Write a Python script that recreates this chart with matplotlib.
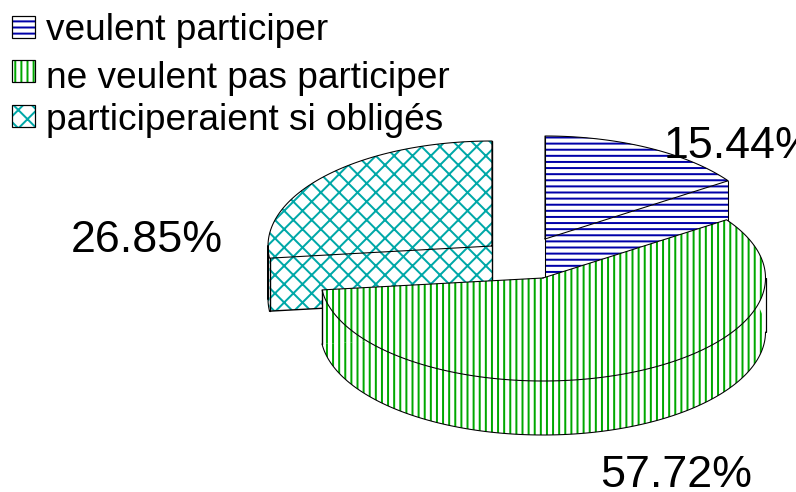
import numpy as np
import matplotlib
matplotlib.use("Agg")
import matplotlib.pyplot as plt
from matplotlib.patches import Polygon, Rectangle

categories = ["veulent participer", "ne veulent pas participer", "participeraient si obligés"]
values = [15.44, 57.72, 26.85]
value_labels = ["15.44%", "57.72%", "26.85%"]
colors = ["#0000A8", "#00A800", "#00A8A8"]
hatches = ["---", "|||", "xx"]

W, H, DPI = 796, 492, 110
plt.rcParams["font.family"] = ["Liberation Sans", "DejaVu Sans"]
plt.rcParams["hatch.linewidth"] = 1.3
plt.rcParams["path.simplify"] = False

fig = plt.figure(figsize=(W / DPI, H / DPI), dpi=DPI)
ax = fig.add_axes([0, 0, 1, 1])
ax.set_xlim(0, W)
ax.set_ylim(H, 0)
ax.axis("off")

# layout of each exploded slice: centre x, centre y, semi axes, thickness
layout = [(545, 239, 222, 103, 55), (543, 278, 222.5, 103, 54), (492, 246, 224, 105, 53)]
label_pos = [(664, 158), (600, 487), (71, 252)]
draw_order = [2, 0, 1]

fractions = np.array(values) / sum(values)
edges = np.concatenate([[0], np.cumsum(fractions)]) * 2 * np.pi
z = [10]


def next_z():
    z[0] += 1
    return z[0]


def arc(cx, cy, a, b, t0, t1, n=160):
    t = np.linspace(t0, t1, n)
    return np.column_stack([cx + a * np.sin(t), cy - b * np.cos(t)])


def fill(pts, i):
    ax.add_patch(Polygon(pts, closed=True, facecolor="white", edgecolor=colors[i],
                         hatch=hatches[i], linewidth=0, zorder=next_z()))


def outline(pts, lw=0.7):
    pts = np.asarray(pts)
    ax.plot(pts[:, 0], pts[:, 1], color="black", lw=lw, solid_capstyle="round", zorder=next_z())


for i in draw_order:
    cx, cy, a, b, d = layout[i]
    t0, t1 = edges[i], edges[i + 1]
    top = arc(cx, cy, a, b, t0, t1)
    apex = np.array([[cx, cy]])
    drop = np.array([[0, d]])
    low = top + drop
    # extruded outer wall and cut faces
    fill(np.vstack([top, low[::-1]]), i)
    fill(np.vstack([apex, top[:1], low[:1], apex + drop]), i)
    fill(np.vstack([apex, top[-1:], low[-1:], apex + drop]), i)
    # top face
    surface = np.vstack([apex, top])
    fill(surface, i)
    # visible silhouette lines
    if i == 0:
        outline([top[-1], low[-1]])
        outline([top[0], apex[0] + drop[0]])
    elif i == 1:
        outline(arc(cx, cy + d, a, b, np.pi / 2, t1))
        outline([[cx + a, cy], [cx + a, cy + d]], lw=0.8)
        outline([top[-1], low[-1]], lw=0.9)
    else:
        outline(arc(cx, cy + d, a, b, t0, 1.5 * np.pi))
        outline([[cx - a, cy], [cx - a, cy + d]], lw=1.3)
        outline([low[0], apex[0] + drop[0]], lw=0.9)
        outline([top[0], low[0]], lw=0.9)
        outline([top[-1], apex[0] + drop[0]], lw=0.9)
    outline(np.vstack([surface, apex]))

for (x, y), lab in zip(label_pos, value_labels):
    ax.text(x, y, lab, fontsize=29.3, color="black", ha="left", va="baseline",
            clip_on=True, zorder=100)

legend_y = [16, 60, 105]
text_base = [40, 88, 130]
for i, name in enumerate(categories):
    ax.add_patch(Rectangle((12, legend_y[i]), 23, 22, facecolor="white", edgecolor=colors[i],
                           hatch=hatches[i], linewidth=0, zorder=5))
    ax.add_patch(Rectangle((12, legend_y[i]), 23, 22, fill=False, edgecolor="black",
                           linewidth=0.8, zorder=6))
    ax.text(46, text_base[i], name, fontsize=24.2, color="black", ha="left", va="baseline",
            zorder=100)

fig.savefig("out.png", dpi=DPI, facecolor="white")
